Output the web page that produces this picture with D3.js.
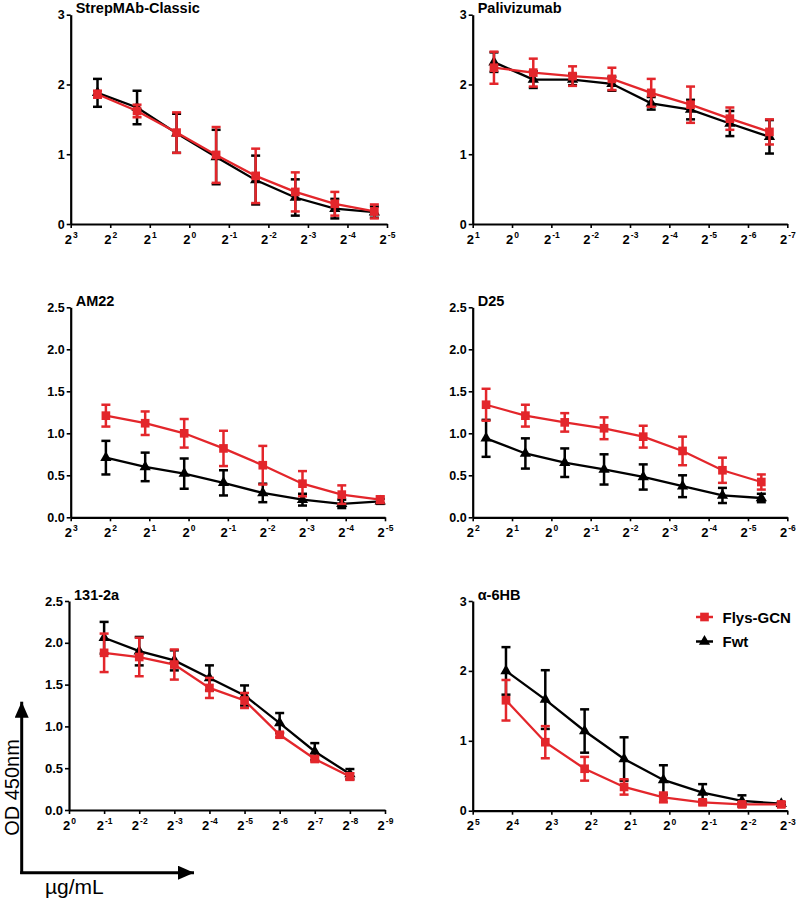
<!DOCTYPE html>
<html>
<head>
<meta charset="utf-8">
<script src="https://cdn.jsdelivr.net/npm/d3@7"></script>
<style>
  html, body { margin: 0; padding: 0; background: #fff; }
  svg { display: block; }
  text { font-family: "Liberation Sans", Arial, Helvetica, sans-serif; }
</style>
</head>
<body>
<svg id="chart" width="797" height="900"></svg>
<script>
// ---------------- DATA ----------------
const panelTitles = ["StrepMAb-Classic", "Palivizumab", "AM22", "D25", "131-2a", "α-6HB"];
const seriesNames = ["Flys-GCN", "Fwt"];

// x tick exponent ranges (2^n), left to right
const xExpStrep = [3, 2, 1, 0, -1, -2, -3, -4, -5];
const xExpPali  = [1, 0, -1, -2, -3, -4, -5, -6, -7];
const xExpAM22  = [3, 2, 1, 0, -1, -2, -3, -4, -5];
const xExpD25   = [2, 1, 0, -1, -2, -3, -4, -5, -6];
const xExp131   = [0, -1, -2, -3, -4, -5, -6, -7, -8, -9];
const xExp6HB   = [5, 4, 3, 2, 1, 0, -1, -2, -3];

const yTicks3   = [0, 1, 2, 3];
const yTicks25  = [0, 0.5, 1.0, 1.5, 2.0, 2.5];

// concentrations (µg/mL)
const concStrep = [5, 2.5, 1.25, 0.625, 0.3125, 0.156, 0.078, 0.039];
const concPali  = [1.375, 0.6875, 0.344, 0.172, 0.086, 0.043, 0.0215, 0.0107];
const concAM22  = [4.3, 2.15, 1.08, 0.54, 0.27, 0.134, 0.067, 0.034];
const concD25   = [3.16, 1.58, 0.79, 0.395, 0.198, 0.099, 0.049, 0.0247];
const conc131   = [0.5, 0.25, 0.125, 0.0625, 0.03125, 0.015625, 0.0078125, 0.00390625];
const conc6HB   = [17.8, 8.9, 4.45, 2.22, 1.11, 0.556, 0.278, 0.139];

// OD450 means and errors
const flysStrep    = [1.86, 1.62, 1.31, 0.99, 0.69, 0.46, 0.29, 0.18];
const flysStrepErr = [0.05, 0.09, 0.29, 0.40, 0.39, 0.28, 0.17, 0.10];
const fwtStrep     = [1.88, 1.67, 1.30, 0.96, 0.63, 0.38, 0.22, 0.17];
const fwtStrepErr  = [0.20, 0.24, 0.28, 0.39, 0.35, 0.26, 0.14, 0.08];

const flysPali     = [2.24, 2.17, 2.12, 2.08, 1.88, 1.71, 1.51, 1.32];
const flysPaliErr  = [0.23, 0.20, 0.14, 0.16, 0.20, 0.26, 0.16, 0.18];
const fwtPali      = [2.32, 2.07, 2.07, 2.01, 1.73, 1.64, 1.44, 1.25];
const fwtPaliErr   = [0.14, 0.12, 0.08, 0.10, 0.09, 0.14, 0.18, 0.24];

const flysAM22     = [1.21, 1.12, 1.00, 0.82, 0.62, 0.40, 0.27, 0.21];
const flysAM22Err  = [0.13, 0.14, 0.17, 0.21, 0.23, 0.15, 0.11, 0.04];
const fwtAM22      = [0.71, 0.60, 0.52, 0.41, 0.29, 0.21, 0.16, 0.19];
const fwtAM22Err   = [0.20, 0.17, 0.18, 0.15, 0.11, 0.07, 0.05, 0.03];

const flysD25      = [1.34, 1.21, 1.13, 1.06, 0.96, 0.79, 0.56, 0.42];
const flysD25Err   = [0.19, 0.13, 0.11, 0.13, 0.13, 0.17, 0.15, 0.09];
const fwtD25       = [0.94, 0.76, 0.65, 0.57, 0.48, 0.37, 0.26, 0.23];
const fwtD25Err    = [0.22, 0.18, 0.17, 0.18, 0.15, 0.13, 0.09, 0.05];

const flys131      = [1.88, 1.83, 1.74, 1.46, 1.31, 0.90, 0.61, 0.40];
const flys131Err   = [0.23, 0.23, 0.18, 0.12, 0.09, 0.03, 0.03, 0.04];
const fwt131       = [2.06, 1.90, 1.79, 1.58, 1.37, 1.04, 0.70, 0.43];
const fwt131Err    = [0.19, 0.17, 0.12, 0.15, 0.12, 0.12, 0.10, 0.06];

const flys6HB      = [1.58, 0.98, 0.60, 0.34, 0.19, 0.12, 0.09, 0.09];
const flys6HBErr   = [0.29, 0.23, 0.17, 0.11, 0.07, 0.03, 0.03, 0.03];
const fwt6HB       = [2.00, 1.59, 1.14, 0.74, 0.44, 0.26, 0.14, 0.10];
const fwt6HBErr    = [0.34, 0.42, 0.31, 0.31, 0.21, 0.12, 0.08, 0.02];

// ---------------- LAYOUT ----------------
const RED = "#e3262b", BLACK = "#000";
const layout = [
  { x0: 70.7,  x1: 387,   yb: 224,   yt: 14.7 },
  { x0: 472.7, x1: 787.3, yb: 224,   yt: 14.7 },
  { x0: 70.7,  x1: 385,   yb: 517.3, yt: 307.3 },
  { x0: 472.7, x1: 787.3, yb: 517.3, yt: 307.3 },
  { x0: 69,    x1: 385,   yb: 810,   yt: 601 },
  { x0: 472.7, x1: 787.3, yb: 810.7, yt: 601 }
];

const panels = [
  { title: panelTitles[0], xExp: xExpStrep, yTicks: yTicks3,  conc: concStrep, flys: flysStrep, flysErr: flysStrepErr, fwt: fwtStrep, fwtErr: fwtStrepErr, fmt: d3.format("d") },
  { title: panelTitles[1], xExp: xExpPali,  yTicks: yTicks3,  conc: concPali,  flys: flysPali,  flysErr: flysPaliErr,  fwt: fwtPali,  fwtErr: fwtPaliErr,  fmt: d3.format("d") },
  { title: panelTitles[2], xExp: xExpAM22,  yTicks: yTicks25, conc: concAM22,  flys: flysAM22,  flysErr: flysAM22Err,  fwt: fwtAM22,  fwtErr: fwtAM22Err,  fmt: d3.format(".1f") },
  { title: panelTitles[3], xExp: xExpD25,   yTicks: yTicks25, conc: concD25,   flys: flysD25,   flysErr: flysD25Err,   fwt: fwtD25,   fwtErr: fwtD25Err,   fmt: d3.format(".1f") },
  { title: panelTitles[4], xExp: xExp131,   yTicks: yTicks25, conc: conc131,   flys: flys131,   flysErr: flys131Err,   fwt: fwt131,   fwtErr: fwt131Err,   fmt: d3.format(".1f") },
  { title: panelTitles[5], xExp: xExp6HB,   yTicks: yTicks3,  conc: conc6HB,   flys: flys6HB,   flysErr: flys6HBErr,   fwt: fwt6HB,   fwtErr: fwt6HBErr,   fmt: d3.format("d") }
];

const svg = d3.select("#chart");

panels.forEach((p, i) => {
  const L = layout[i];
  const g = svg.append("g");
  const expFirst = p.xExp[0], expLast = p.xExp[p.xExp.length - 1];
  const x = d3.scaleLog().base(2).domain([Math.pow(2, expFirst), Math.pow(2, expLast)]).range([L.x0, L.x1]);
  const y = d3.scaleLinear().domain([0, p.yTicks[p.yTicks.length - 1]]).range([L.yb, L.yt]);

  // Y axis
  const ya = g.append("g").attr("transform", `translate(${L.x0},0)`)
    .call(d3.axisLeft(y).tickValues(p.yTicks).tickFormat(p.fmt).tickSize(4).tickSizeOuter(0).tickPadding(2));
  ya.select(".domain").attr("stroke", BLACK).attr("stroke-width", 2.2);
  ya.selectAll(".tick line").attr("stroke", BLACK).attr("stroke-width", 1.6);
  ya.selectAll(".tick text").attr("font-size", i === 4 ? 13 : 12.5).attr("font-weight", "bold").attr("fill", BLACK)
    .attr("font-family", '"Liberation Sans", Arial, sans-serif');

  // X axis
  const xVals = p.xExp.map(e => Math.pow(2, e));
  const xa = g.append("g").attr("transform", `translate(0,${L.yb})`)
    .call(d3.axisBottom(x).tickValues(xVals).tickFormat(() => "").tickSize(4).tickSizeOuter(0));
  xa.select(".domain").attr("stroke", BLACK).attr("stroke-width", 2.2);
  xa.selectAll(".tick line").attr("stroke", BLACK).attr("stroke-width", 1.6);
  xa.selectAll(".tick").each(function (d, k) {
    const t = d3.select(this).select("text");
    t.text(null).attr("y", 19.5).attr("dy", null).attr("text-anchor", "middle")
      .attr("fill", BLACK).attr("font-weight", "bold")
      .attr("font-family", '"Liberation Sans", Arial, sans-serif');
    t.append("tspan").attr("font-size", 13).text("2");
    t.append("tspan").attr("font-size", 8.5).attr("dy", -5.5).attr("dx", 1).text(String(p.xExp[k]));
  });

  // Title
  g.append("text").attr("x", L.x0 + 5).attr("y", L.yt - 1.5)
    .attr("font-size", 14.5).attr("font-weight", "bold").attr("fill", BLACK).text(p.title);

  const series = [
    { name: seriesNames[1], vals: p.fwt, errs: p.fwtErr, color: BLACK, shape: d3.symbolTriangle, size: 55 },
    { name: seriesNames[0], vals: p.flys, errs: p.flysErr, color: RED, shape: d3.symbolSquare, size: 75 }
  ];

  series.forEach(s => {
    const pts = p.conc.map((c, k) => ({ c, v: s.vals[k], e: s.errs[k] }));
    const sg = g.append("g");
    // error bars
    const eb = sg.selectAll(".eb").data(pts).join("g");
    eb.append("line").attr("x1", d => x(d.c)).attr("x2", d => x(d.c))
      .attr("y1", d => y(d.v - d.e)).attr("y2", d => y(d.v + d.e))
      .attr("stroke", s.color).attr("stroke-width", 2.5);
    [1, -1].forEach(sign => {
      eb.append("line").attr("x1", d => x(d.c) - 4.5).attr("x2", d => x(d.c) + 4.5)
        .attr("y1", d => y(d.v + sign * d.e)).attr("y2", d => y(d.v + sign * d.e))
        .attr("stroke", s.color).attr("stroke-width", 2.5);
    });
    // line
    sg.append("path").datum(pts)
      .attr("d", d3.line().x(d => x(d.c)).y(d => y(d.v)))
      .attr("fill", "none").attr("stroke", s.color).attr("stroke-width", 2.3);
    // markers
    sg.selectAll(".mk").data(pts).join("path")
      .attr("transform", d => `translate(${x(d.c)},${y(d.v)})`)
      .attr("d", d3.symbol().type(s.shape).size(s.size))
      .attr("fill", s.color);
  });

  // Legend in last panel
  if (i === 5) {
    const leg = [
      { name: seriesNames[0], color: RED, shape: d3.symbolSquare, size: 75, y: 617 },
      { name: seriesNames[1], color: BLACK, shape: d3.symbolTriangle, size: 55, y: 641.5 }
    ];
    leg.forEach(l => {
      g.append("line").attr("x1", 696).attr("x2", 713).attr("y1", l.y).attr("y2", l.y)
        .attr("stroke", l.color).attr("stroke-width", 2.5);
      g.append("path").attr("transform", `translate(704.5,${l.y})`)
        .attr("d", d3.symbol().type(l.shape).size(l.size)).attr("fill", l.color);
      g.append("text").attr("x", 722.5).attr("y", l.y + 5.5).attr("font-size", 15)
        .attr("font-weight", "bold").attr("fill", BLACK).text(l.name);
    });
  }
});

// Global axis arrows
const defs = svg.append("defs");
defs.append("marker").attr("id", "arrowhead").attr("viewBox", "0 0 16 14")
  .attr("refX", 16).attr("refY", 7).attr("markerWidth", 16).attr("markerHeight", 14)
  .attr("markerUnits", "userSpaceOnUse").attr("orient", "auto")
  .append("path").attr("d", "M0,0 L16,7 L0,14 Z").attr("fill", BLACK);

svg.append("line").attr("x1", 21.7).attr("y1", 874).attr("x2", 21.7).attr("y2", 701.7)
  .attr("stroke", BLACK).attr("stroke-width", 3).attr("marker-end", "url(#arrowhead)");
svg.append("line").attr("x1", 20.2).attr("y1", 872.7).attr("x2", 194).attr("y2", 872.7)
  .attr("stroke", BLACK).attr("stroke-width", 3).attr("marker-end", "url(#arrowhead)");

svg.append("text").attr("transform", "translate(18.5,787.5) rotate(-90)")
  .attr("text-anchor", "middle").attr("font-size", 20).attr("fill", BLACK).text("OD 450nm");
svg.append("text").attr("x", 45).attr("y", 893.5)
  .attr("font-size", 21).attr("fill", BLACK).text("µg/mL");
</script>
</body>
</html>
